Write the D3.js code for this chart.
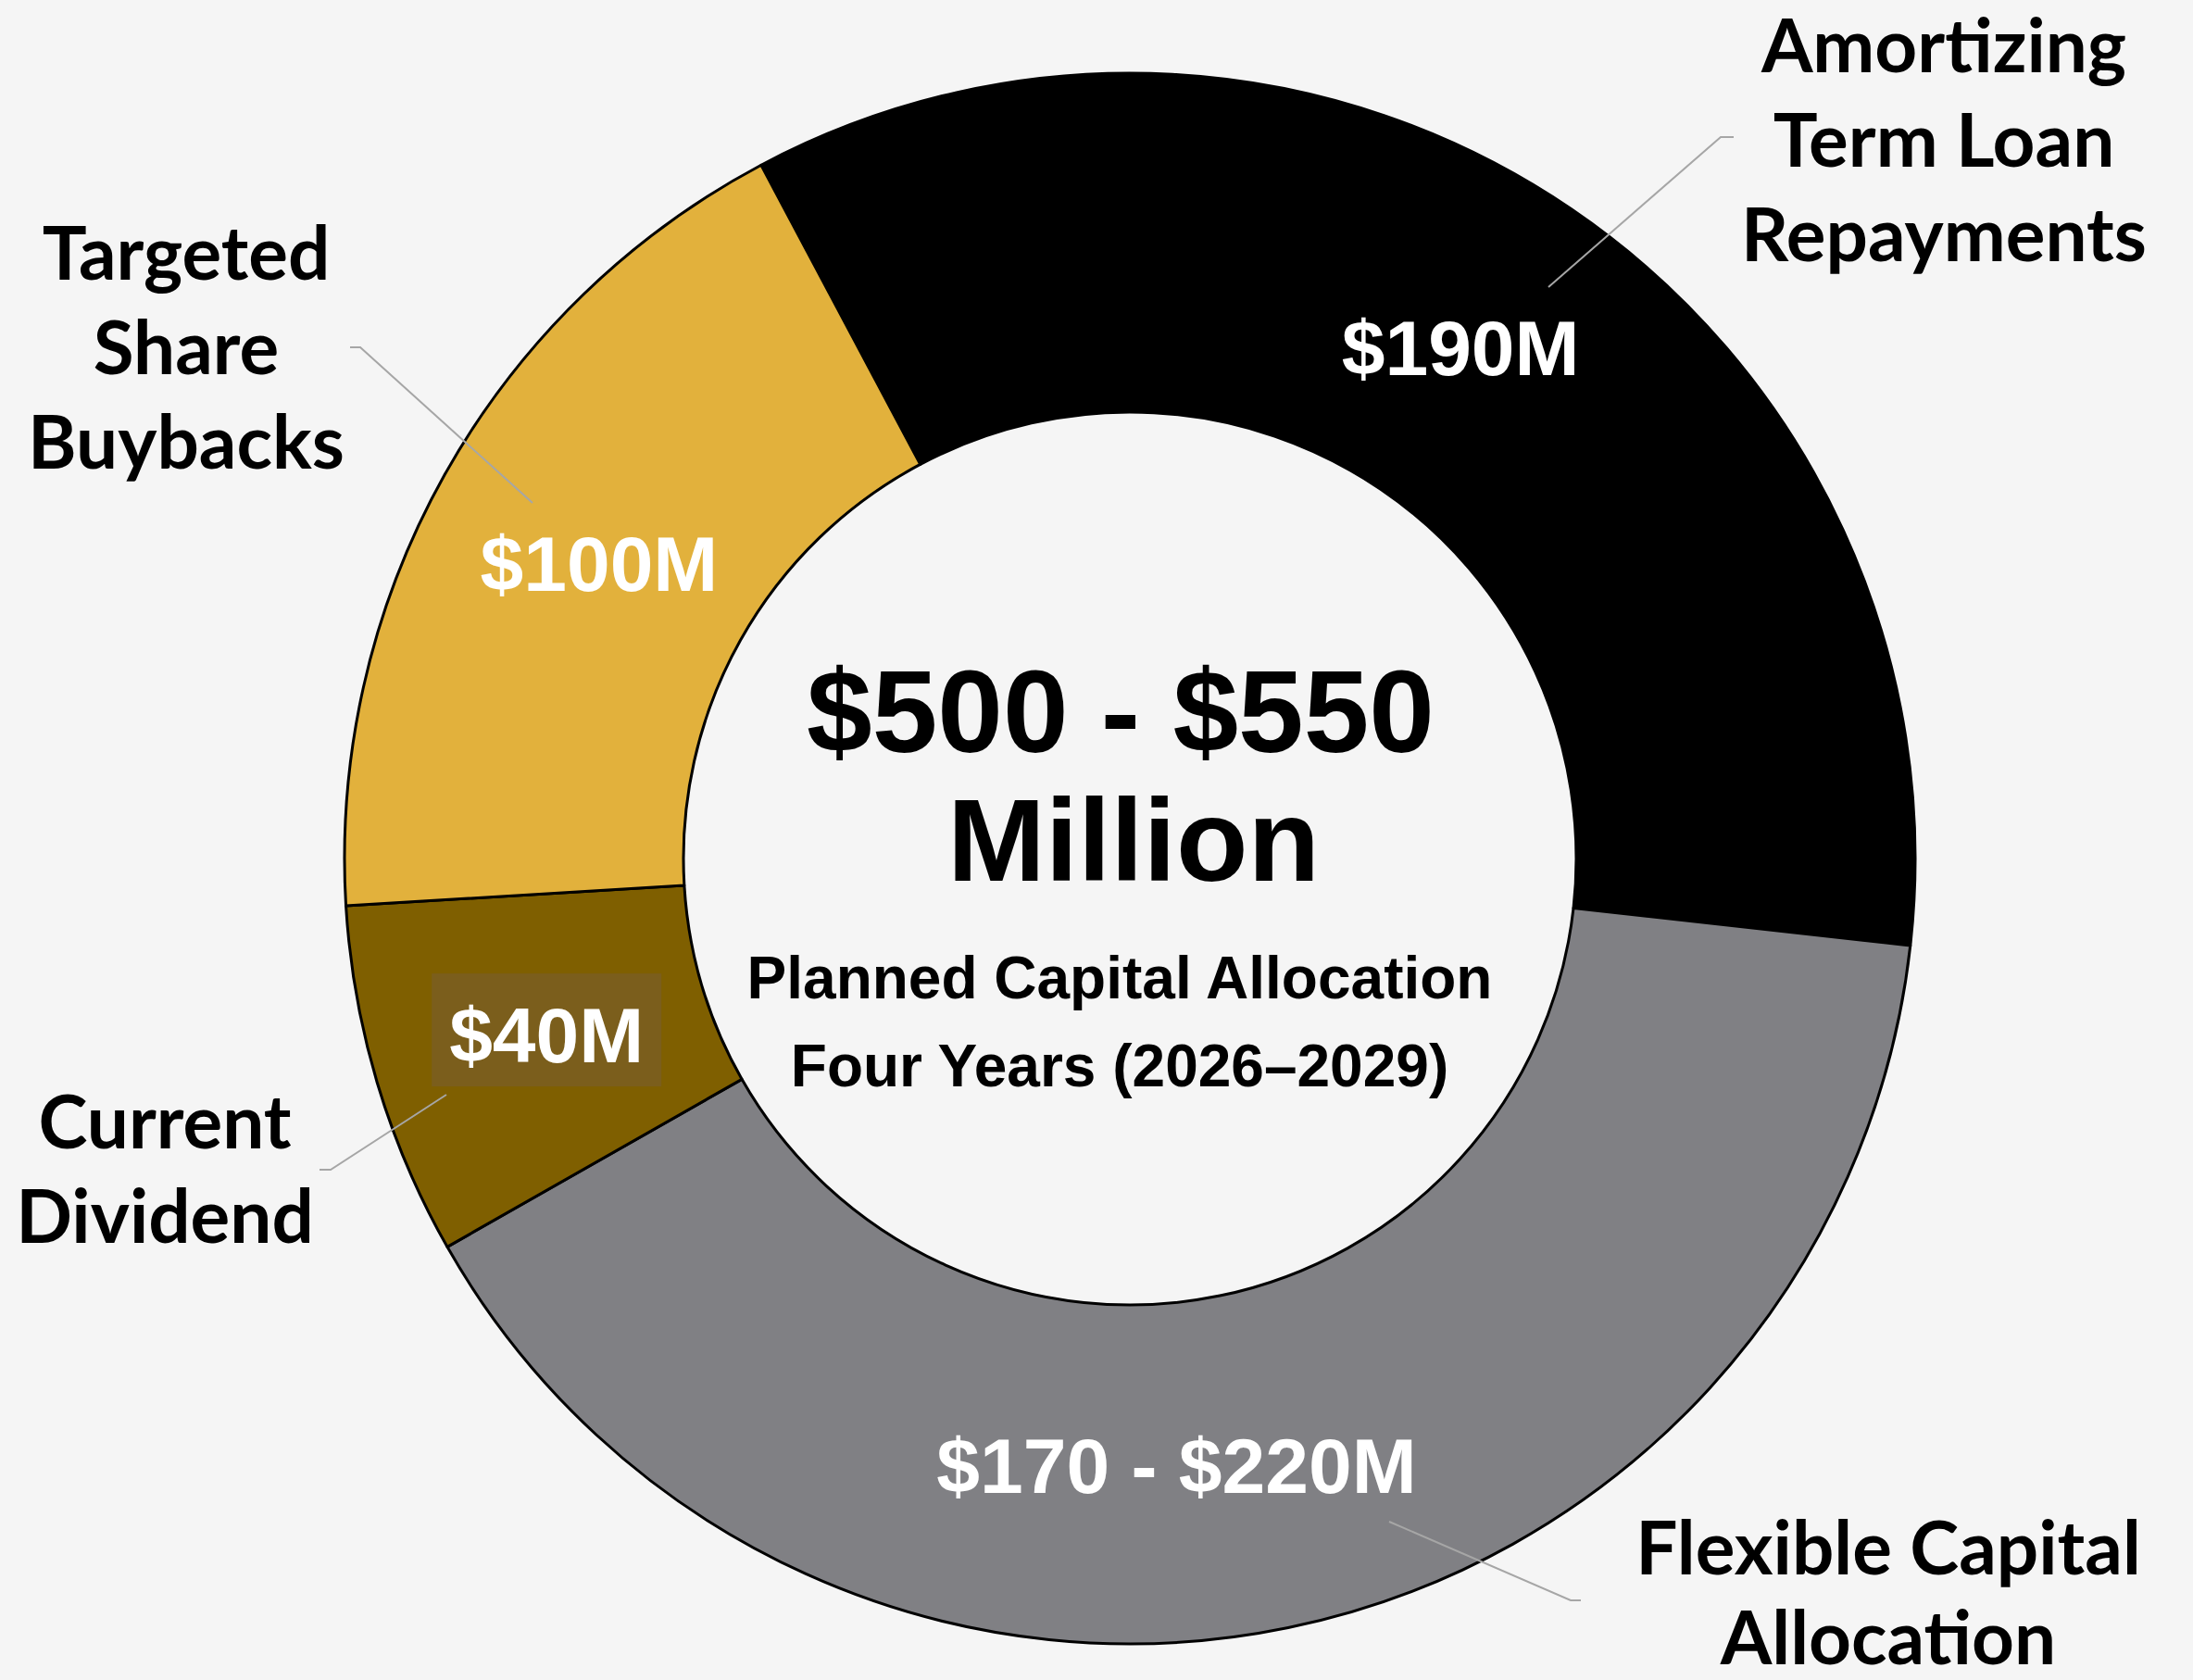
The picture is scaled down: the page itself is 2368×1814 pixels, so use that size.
<!DOCTYPE html>
<html>
<head>
<meta charset="utf-8">
<script src="https://cdn.jsdelivr.net/npm/d3@7"></script>
<style>
  html, body { margin: 0; padding: 0; background: #f5f5f5; }
  svg { display: block; }
</style>
</head>
<body>
<svg id="chart" width="2368" height="1814"></svg>
<script>
// ---- data ----
const categories = ["Amortizing Term Loan Repayments", "Flexible Capital Allocation", "Current Dividend", "Targeted Share Buybacks"];
const categoryLines = [["Amortizing", "Term Loan", "Repayments"], ["Flexible Capital", "Allocation"], ["Current", "Dividend"], ["Targeted", "Share", "Buybacks"]];
const values = [190, 220, 40, 100];           // $M (flexible shown at upper bound of range)
const valueLabels = ["$190M", "$170 - $220M", "$40M", "$100M"];
const colors = ["#000000", "#808084", "#7f5f00", "#e2b13c"];
const centerTitle = ["$500 - $550", "Million"];
const centerSubtitle = ["Planned Capital Allocation", "Four Years (2026\u20132029)"];

// ---- layout ----
const W = 2368, H = 1814;
const cx = 1220, cy = 927;
const rOuter = 848, rInner = 482;
const startAngle = -28 * Math.PI / 180;

const svg = d3.select("#chart");
svg.append("rect").attr("width", W).attr("height", H).attr("fill", "#f5f5f5");

const pie = d3.pie().sort(null).value(d => d).startAngle(startAngle).endAngle(startAngle + 2 * Math.PI);
const arcs = pie(values);
const arc = d3.arc().innerRadius(rInner).outerRadius(rOuter);
const labelArc = d3.arc().innerRadius(657).outerRadius(657);

const g = svg.append("g").attr("transform", `translate(${cx},${cy})`);

g.selectAll("path.slice")
  .data(arcs)
  .join("path")
  .attr("class", "slice")
  .attr("d", arc)
  .attr("fill", (d, i) => colors[i])
  .attr("stroke", "#000")
  .attr("stroke-width", 3)
  .attr("stroke-linejoin", "round");

// value labels
const valueFont = "'Liberation Sans', Arial, Helvetica, sans-serif";
const labelNudge = [[-12, -8], [-82, 12], [0, 3], [0, 2]];
const vlab = g.selectAll("g.vlab")
  .data(arcs)
  .join("g")
  .attr("class", "vlab")
  .attr("transform", (d, i) => {
    const c = labelArc.centroid(d);
    return `translate(${c[0] + labelNudge[i][0]},${c[1] + labelNudge[i][1]})`;
  });

// background box behind $40M
vlab.filter((d, i) => i === 2)
  .append("rect")
  .attr("x", -124).attr("y", -66).attr("width", 248).attr("height", 122)
  .attr("fill", "#7b5e1c");

vlab.append("text")
  .attr("text-anchor", "middle")
  .attr("y", 30)
  .attr("font-family", valueFont)
  .attr("font-weight", "bold")
  .attr("font-size", 84)
  .attr("fill", "#ffffff")
  .text((d, i) => valueLabels[i]);

// center text
const center = svg.append("g").attr("font-family", valueFont).attr("font-weight", "bold").attr("fill", "#000").attr("text-anchor", "middle");
center.append("text").attr("x", 1210).attr("y", 812).attr("font-size", 127).text(centerTitle[0]);
center.append("text").attr("x", 1224).attr("y", 951).attr("font-size", 127).text(centerTitle[1]);
center.append("text").attr("x", 1209).attr("y", 1078).attr("font-size", 64).text(centerSubtitle[0]);
center.append("text").attr("x", 1209).attr("y", 1173).attr("font-size", 64).text(centerSubtitle[1]);

// leader lines
const leaders = [
  [[1672, 310], [1858, 148], [1872, 148]],
  [[1500, 1643], [1696, 1728], [1707, 1728]],
  [[482, 1182], [357, 1263], [345, 1263]],
  [[575, 543], [389, 375], [378, 375]]
];
svg.selectAll("path.leader")
  .data(leaders)
  .join("path")
  .attr("class", "leader")
  .attr("d", d => d3.line()(d))
  .attr("fill", "none")
  .attr("stroke", "#a6a6a6")
  .attr("stroke-width", 2);

// category labels
const catPos = [[2099, 78], [2039, 1700], [178, 1240], [201, 302]];
const catLineH = [102, 97, 102, 102];
const cat = svg.selectAll("text.cat")
  .data(categoryLines)
  .join("text")
  .attr("class", "cat")
  .attr("text-anchor", "middle")
  .attr("font-family", "Lato, 'Open Sans', sans-serif")
  .attr("font-weight", "bold")
  .attr("font-size", 80)
  .attr("fill", "#000");
cat.selectAll("tspan")
  .data((d, i) => d.map((t, j) => ({t, x: catPos[i][0], y: catPos[i][1] + j * catLineH[i]})))
  .join("tspan")
  .attr("x", d => d.x)
  .attr("y", d => d.y)
  .text(d => d.t);
</script>
</body>
</html>
